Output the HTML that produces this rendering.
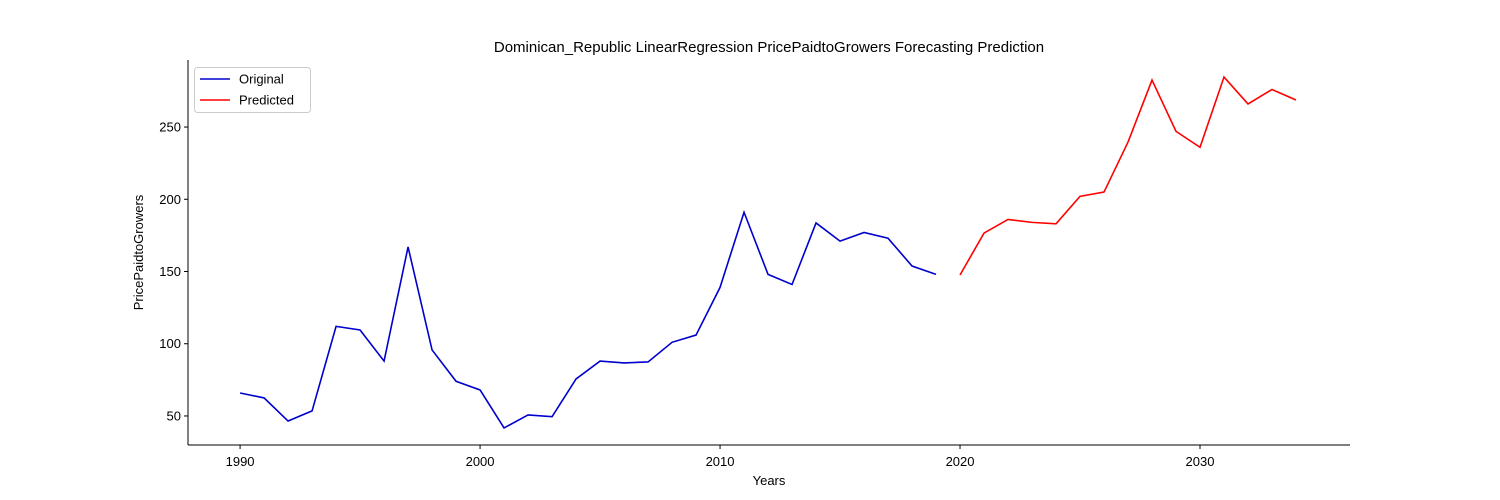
<!DOCTYPE html>
<html><head><meta charset="utf-8"><style>
body{margin:0;background:#fff;}
svg{display:block;font-family:"Liberation Sans","DejaVu Sans",sans-serif;}
</style></head><body>
<svg id="chart" width="1500" height="500">
<rect x="0" y="0" width="1500" height="500" fill="#fff"/>
<text x="769" y="52" text-anchor="middle" font-size="15">Dominican_Republic LinearRegression PricePaidtoGrowers Forecasting Prediction</text>
<g id="axes"></g>
<g id="series"></g>
<g>
<rect x="194.5" y="67.5" width="116" height="45" rx="3" fill="#fff" stroke="#ccc"/>
<line x1="200" y1="79" x2="230" y2="79" stroke="#0000cd" stroke-width="1.6"/>
<text x="239" y="83.5" font-size="13">Original</text>
<line x1="200" y1="100" x2="230" y2="100" stroke="red" stroke-width="1.6"/>
<text x="239" y="104.5" font-size="13">Predicted</text>
</g>
</svg>
<script>
const origYears=[1990,1991,1992,1993,1994,1995,1996,1997,1998,1999,2000,2001,2002,2003,2004,2005,2006,2007,2008,2009,2010,2011,2012,2013,2014,2015,2016,2017,2018,2019];
const origValues=[65.9,62.5,46.5,53.5,112,109.5,88,167,95.7,74,68,41.7,50.7,49.5,75.6,88,86.7,87.4,101,106,139,191,148,141,183.6,171,177,173,153.8,148];
const predYears=[2020,2021,2022,2023,2024,2025,2026,2027,2028,2029,2030,2031,2032,2033,2034];
const predValues=[147.6,176.6,186,184,183,202,205,239.6,282.5,247,236,284.6,266,276,268.7];
const xTicks=[1990,2000,2010,2020,2030];
const yTicks=[50,100,150,200,250];

const L=188,R=1350,T=60,B=445;
const xMin=1987.83,xMax=2036.25,yMin=29.9,yMax=296.4;
const sx=v=>L+(v-xMin)/(xMax-xMin)*(R-L);
const sy=v=>B-(v-yMin)/(yMax-yMin)*(B-T);
const NS="http://www.w3.org/2000/svg";
const ax=document.getElementById('axes'),se=document.getElementById('series');
function mk(tag,attrs,parent){const e=document.createElementNS(NS,tag);for(const k in attrs)e.setAttribute(k,attrs[k]);parent.appendChild(e);return e;}
let e=mk('line',{x1:L,y1:T,x2:L,y2:B,stroke:'#000','stroke-width':1},ax);


e=mk('line',{x1:L,y1:B,x2:R,y2:B,stroke:'#000','stroke-width':1},ax);


xTicks.forEach(t=>{const x=sx(t);
 let l=mk('line',{x1:x,y1:B,x2:x,y2:B+4,stroke:'#000'},ax);
 
 
 let tx=mk('text',{x:x,y:B+21,'text-anchor':'middle','font-size':13},ax);tx.textContent=t;
 
 
});
yTicks.forEach(t=>{const y=sy(t);
 let l=mk('line',{x1:L-4,y1:y,x2:L,y2:y,stroke:'#000'},ax);
 
 
 let tx=mk('text',{x:L-7,y:y+4.5,'text-anchor':'end','font-size':13},ax);tx.textContent=t;
 
 
});
let xt=mk('text',{x:(L+R)/2,y:485,'text-anchor':'middle','font-size':13},ax);xt.textContent='Years';


let yt=mk('text',{x:0,y:0,'text-anchor':'middle','font-size':13,transform:`translate(143,${(T+B)/2}) rotate(-90)`},ax);yt.textContent='PricePaidtoGrowers';


function line(xs,ys,color,name){
 const p=mk('polyline',{points:xs.map((x,i)=>sx(x)+','+sy(ys[i])).join(' '),fill:'none',stroke:color,'stroke-width':1.6},se);
 
 
}
line(origYears,origValues,'#0000cd','original-line');
line(predYears,predValues,'red','predicted-line');
</script>
</body></html>
